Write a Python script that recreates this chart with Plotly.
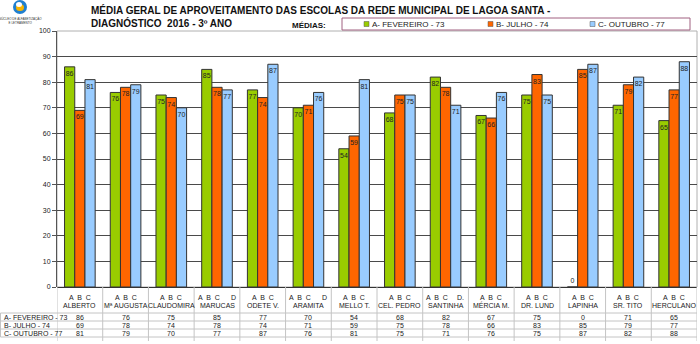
import plotly.graph_objects as go

schools = ["ALBERTO", "Mª AUGUSTA", "CLAUDOMIRA", "MARUCAS", "ODETE V.", "ARAMITA", "MELLO T.",
           "CEL. PEDRO", "SANTINHA", "MÉRCIA M.", "DR. LUND", "LAPINHA", "SR. TITO", "HERCULANO"]
fevereiro = [86, 76, 75, 85, 77, 70, 54, 68, 82, 67, 75, 0, 71, 65]
julho = [69, 78, 74, 78, 74, 71, 59, 75, 78, 66, 83, 85, 79, 77]
outubro = [81, 79, 70, 77, 87, 76, 81, 75, 71, 76, 75, 87, 82, 88]
series_names = ["A- FEVEREIRO - 73", "B- JULHO - 74", "C- OUTUBRO - 77"]
series_values = [fevereiro, julho, outubro]
colors = ["#99cc00", "#ff6600", "#99ccff"]
y_ticks = [0, 10, 20, 30, 40, 50, 60, 70, 80, 90, 100]
title_lines = ["MÉDIA GERAL DE APROVEITAMENTO DAS ESCOLAS DA REDE MUNICIPAL DE LAGOA SANTA -",
               "DIAGNÓSTICO  2016 - 3º ANO"]
d_marks = {"MARUCAS": "D", "ARAMITA": "D", "SANTINHA": "D."}

W, H = 700, 344
L, R, T, B = 57, 3, 31, 57
PW, PH = W - L - R, H - T - B
FONT = "Liberation Sans, Arial, sans-serif"


def px(x):
    return (x - L) / PW


def py(y):
    return (H - B - y) / PH


fig = go.Figure()
for name, vals, col in zip(series_names, series_values, colors):
    fig.add_trace(go.Bar(
        x=schools, y=vals, name=name,
        marker=dict(color=col, line=dict(color="#333333", width=1)),
        text=[str(v) for v in vals],
        textposition=["inside" if v > 0 else "outside" for v in vals],
        insidetextanchor="end", textangle=0,
        textfont=dict(size=7, color="#222222", family=FONT),
        cliponaxis=False, showlegend=False, hoverinfo="skip",
    ))

n = len(schools)
shapes = []
annotations = []

# plot border
shapes.append(dict(type="rect", xref="paper", yref="paper", x0=0, x1=1, y0=0, y1=1,
                   line=dict(color="#b0b0b0", width=1), layer="below"))

# table grid
line_col = "#c4c4c4"
for yy in [313, 321, 329, 337]:
    shapes.append(dict(type="line", xref="paper", yref="paper", x0=px(0.5), x1=1,
                       y0=py(yy), y1=py(yy), line=dict(color=line_col, width=1)))
for i in range(n + 1):
    xx = i - 0.5
    shapes.append(dict(type="line", xref="x", yref="paper", x0=xx, x1=xx,
                       y0=py(287), y1=py(341), line=dict(color=line_col, width=1)))
shapes.append(dict(type="line", xref="paper", yref="paper", x0=px(0.5), x1=px(0.5),
                   y0=py(313), y1=py(337), line=dict(color=line_col, width=1)))

# category labels
for i, s in enumerate(schools):
    if s in d_marks:
        annotations.append(dict(x=i - 0.47, y=py(297), xref="x", yref="paper", text="A  B  C",
                                showarrow=False, xanchor="left", yanchor="middle",
                                font=dict(size=7, color="#222", family=FONT)))
        annotations.append(dict(x=i + 0.45, y=py(297), xref="x", yref="paper", text=d_marks[s],
                                showarrow=False, xanchor="right", yanchor="middle",
                                font=dict(size=7, color="#222", family=FONT)))
    else:
        annotations.append(dict(x=i, y=py(297), xref="x", yref="paper", text="A  B  C",
                                showarrow=False, xanchor="center", yanchor="middle",
                                font=dict(size=7, color="#222", family=FONT)))
    annotations.append(dict(x=i, y=py(305), xref="x", yref="paper", text=s,
                            showarrow=False, xanchor="center", yanchor="middle",
                            font=dict(size=7, color="#222", family=FONT)))

# table rows
row_y = [317, 325, 333]
for r, (name, vals) in enumerate(zip(series_names, series_values)):
    annotations.append(dict(x=px(2), y=py(row_y[r]), xref="paper", yref="paper", text=name,
                            showarrow=False, xanchor="left", yanchor="middle",
                            font=dict(size=7, color="#222", family=FONT)))
    for i, v in enumerate(vals):
        annotations.append(dict(x=i, y=py(row_y[r]), xref="x", yref="paper", text=str(v),
                                showarrow=False, xanchor="center", yanchor="middle",
                                font=dict(size=7, color="#222", family=FONT)))

# title
annotations.append(dict(x=px(89), y=py(2), xref="paper", yref="paper",
                        text="<b>" + title_lines[0] + "</b><br><b>" + title_lines[1] + "</b>",
                        showarrow=False, xanchor="left", yanchor="top", align="left",
                        font=dict(size=10, color="#111", family=FONT)))
annotations.append(dict(x=px(290), y=py(25), xref="paper", yref="paper", text="<b>MÉDIAS:</b>",
                        showarrow=False, xanchor="left", yanchor="middle",
                        font=dict(size=8, color="#111", family=FONT)))

# legend box
shapes.append(dict(type="rect", xref="paper", yref="paper", x0=px(342), x1=px(690),
                   y0=py(30), y1=py(18), line=dict(color="#a06080", width=1)))
leg_x = [364, 488, 590]
for xx, name, col in zip(leg_x, series_names, colors):
    shapes.append(dict(type="rect", xref="paper", yref="paper", x0=px(xx), x1=px(xx + 5),
                       y0=py(26.5), y1=py(21.5), fillcolor=col, line=dict(color="#555", width=0.5)))
    annotations.append(dict(x=px(xx + 6), y=py(24), xref="paper", yref="paper", text=name,
                            showarrow=False, xanchor="left", yanchor="middle",
                            font=dict(size=8, color="#222", family=FONT)))

# logo
shapes.append(dict(type="circle", xref="paper", yref="paper", x0=px(13), x1=px(27),
                   y0=py(14), y1=py(0), fillcolor="#1f7fd0", line=dict(width=0)))
shapes.append(dict(type="circle", xref="paper", yref="paper", x0=px(16), x1=px(24),
                   y0=py(11), y1=py(4), fillcolor="#f7b500", line=dict(width=0)))
shapes.append(dict(type="circle", xref="paper", yref="paper", x0=px(16), x1=px(22),
                   y0=py(7), y1=py(2), fillcolor="#ffffff", line=dict(width=0)))
annotations.append(dict(x=px(20), y=py(20), xref="paper", yref="paper",
                        text="NÚCLEO DE ALFABETIZAÇÃO<br>E LETRAMENTO",
                        showarrow=False, xanchor="center", yanchor="middle",
                        font=dict(size=3, color="#333", family=FONT)))

fig.update_layout(
    width=W, height=H,
    margin=dict(l=L, r=R, t=T, b=B, pad=0),
    paper_bgcolor="white", plot_bgcolor="white",
    barmode="group", bargap=0.33, bargroupgap=0,
    uniformtext=dict(minsize=7, mode="show"),
    font=dict(family=FONT, size=7, color="#222"),
    xaxis=dict(type="category", range=[-0.5, n - 0.5], showticklabels=False,
               showgrid=False, zeroline=False, showline=False, ticks=""),
    yaxis=dict(range=[0, 100], tickvals=y_ticks, showgrid=True, gridcolor="#4a4a4a",
               gridwidth=1, zeroline=True, zerolinecolor="#333", zerolinewidth=1,
               ticks="outside", ticklen=4, tickcolor="#555",
               tickfont=dict(size=7, color="#222", family=FONT),
               showline=True, linecolor="#555", linewidth=1),
    shapes=shapes, annotations=annotations,
)

fig.write_html("out.html", config={"displayModeBar": False},
               post_script="document.body.style.margin='0px';document.body.style.overflow='hidden';")
